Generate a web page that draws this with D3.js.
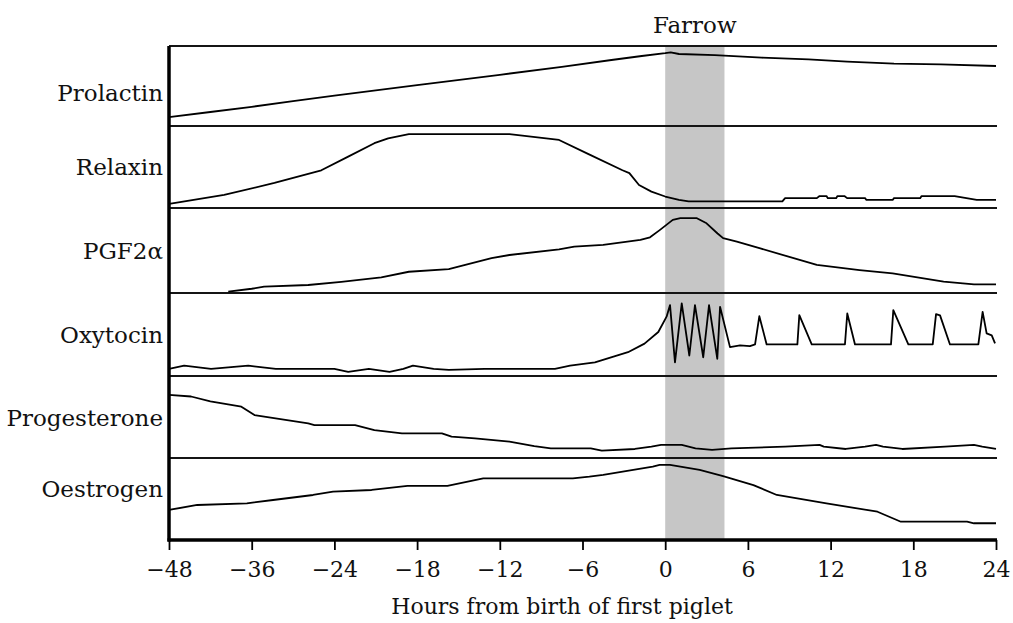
<!DOCTYPE html>
<html><head><meta charset="utf-8">
<script src="https://cdn.jsdelivr.net/npm/d3@7"></script>
<style>body{margin:0;background:#fff}svg{display:block}</style>
</head><body><svg id="c" width="1013" height="623"></svg>
<script>
// ---- data (hours from birth of first piglet, relative level 0-100 within each panel) ----
const hormones = ["Prolactin", "Relaxin", "PGF2\u03B1", "Oxytocin", "Progesterone", "Oestrogen"];
const xTicks = [-48, -36, -24, -18, -12, -6, 0, 6, 12, 18, 24];
const farrowPeriod = [0, 4.3];
const farrowLabel = "Farrow";
const xTitle = "Hours from birth of first piglet";

const prolactin = [[-48,11],[-42,17.5],[-36,24],[-30,31],[-24,38],[-18,51],[-12,64],[-7.5,74],[-3.9,82.5],[-1.7,87.5],[0,91],[0.4,92],[1,90],[3.6,88.7],[7,85.4],[10.4,83.3],[13.2,80.4],[16.6,78],[20,77],[24,75]];
const relaxin = [[-48,5],[-47.3,6],[-40,16],[-32.7,30.5],[-25.9,46],[-23,62.6],[-21.1,79],[-20.1,85],[-18.6,90],[-11.3,90],[-7.7,83],[-5.6,66],[-3.1,46],[-2.6,42.6],[-1.9,28],[-1,20],[0,14],[1,10],[1.7,8],[8.5,8],[8.7,12],[11,12],[11.2,14.6],[11.7,14.6],[11.8,12],[12.4,12],[12.5,14.6],[13,14.6],[13.2,12],[14.5,12],[14.6,9.8],[16.5,9.8],[16.6,12],[18.5,12],[18.6,14.6],[21,14.6],[22.6,9.8],[24,9.8]];
const pgf2a = [[-39.4,1.5],[-36,5],[-34.2,7.4],[-27.8,9.4],[-23.5,13],[-20.6,18.4],[-18.6,25],[-15.7,28],[-15,31],[-12.6,41],[-11.3,44.7],[-7.7,51.4],[-6.6,54.5],[-4.5,56.5],[-1.8,62.4],[-1.1,65.5],[-0.4,74],[0.55,86],[1.1,88],[2.3,88],[3,82],[3.8,70],[4.2,64.5],[5.2,60.4],[6.9,52.5],[11,33],[14.1,27],[16.5,23],[20.2,13.3],[22.4,10.2],[24,10.2]];
const oxytocin = [[-48,8.5],[-45.8,12.5],[-41.9,8.5],[-36.5,12.5],[-32.5,8.5],[-24,8.5],[-23,5],[-21.5,8.5],[-20,5],[-19,8.5],[-18.3,12.5],[-16.8,8.5],[-15.7,7.5],[-13.1,8.5],[-8,8.5],[-6.9,12.5],[-5.1,16.5],[-2.7,28.7],[-1.5,39],[-0.5,53],[0.1,71.5],[0.35,85.4],[0.71,16.5],[1.2,87.5],[1.75,24.7],[2.16,85.4],[2.76,22.6],[3.18,85.4],[3.78,20.7],[3.98,83.4],[4.7,34.8],[5.43,36.8],[6.15,36],[6.52,38],[6.83,72],[7.36,38],[9.59,38],[9.73,73.3],[10.63,38],[13.04,38],[13.21,75.3],[13.77,38],[16.38,38],[16.55,79.3],[17.64,38],[19.41,38],[19.65,74.5],[19.94,73],[20.66,38],[22.72,38],[23.03,77.3],[23.32,51.4],[23.69,49],[23.93,39.2]];
const progesterone = [[-48,77],[-44.8,75],[-42,69],[-37.5,62.6],[-35.6,52.4],[-27.8,42.3],[-26.9,40.2],[-22.5,40.2],[-21.1,34],[-19.1,30],[-16.2,30],[-15.5,26],[-13.8,24],[-11.3,20],[-9.5,14.6],[-8.3,11.8],[-5.4,11.8],[-4.6,9],[-2.2,11],[-1,13.8],[-0.3,16],[1.2,16],[2.2,11.8],[3.4,9.8],[4.8,11.8],[8.7,13.8],[11.2,16],[11.5,13.8],[13.1,11],[14.5,13.8],[15.3,16],[15.8,13.8],[17.2,11],[20.3,13.8],[22.4,16],[23,13.8],[24,11]];
const oestrogen = [[-48,36.6],[-43.9,42.7],[-36.7,44.7],[-32.9,48.8],[-27.1,54.9],[-24.2,59],[-21.3,61],[-18.7,65.9],[-15.8,65.9],[-13.2,75.2],[-6.7,75.2],[-5.5,77.2],[-4.5,79.3],[-0.9,89.4],[-0.4,91.5],[0.35,91.5],[2.5,85.4],[4.2,78],[6.4,67],[8.1,54.9],[11.7,44.7],[15.4,34.5],[17.1,22.3],[21.9,22.3],[22.4,20.4],[24,20.4]];
const series = [prolactin, relaxin, pgf2a, oxytocin, progesterone, oestrogen];

// ---- layout ----
const left = 169, right = 996, lineEnd = 997;
const panelEdges = [46, 126, 208, 293, 376, 458, 540];
const labelNudge = [6.5, 0, 0.5, 0, 1, -10];
const FONT = "'DejaVu Serif', serif";

const svg = d3.select("#c");
const step = (right - left) / (xTicks.length - 1);
const x = d3.scaleLinear().domain(xTicks).range(xTicks.map((d, i) => left + i * step));

// farrowing band
svg.append("rect")
  .attr("x", x(farrowPeriod[0])).attr("y", panelEdges[0])
  .attr("width", x(farrowPeriod[1]) - x(farrowPeriod[0]))
  .attr("height", panelEdges[6] - panelEdges[0])
  .attr("fill", "#c6c6c6");

// panel separators
svg.selectAll("line.sep").data(panelEdges.slice(0, 6)).join("line")
  .attr("class", "sep")
  .attr("x1", left).attr("x2", lineEnd)
  .attr("y1", d => d).attr("y2", d => d)
  .attr("stroke", "#151515").attr("stroke-width", 1.8);

// series lines
series.forEach((s, i) => {
  const y = d3.scaleLinear().domain([0, 100]).range([panelEdges[i + 1], panelEdges[i]]);
  const line = d3.line().x(d => x(d[0])).y(d => y(d[1]));
  svg.append("path").datum(s)
    .attr("d", line)
    .attr("fill", "none").attr("stroke", "#000").attr("stroke-width", 1.8)
    .attr("stroke-linejoin", "round");
  svg.append("text")
    .attr("x", left - 6)
    .attr("y", (panelEdges[i] + panelEdges[i + 1]) / 2 + labelNudge[i])
    .attr("dy", "0.35em")
    .attr("text-anchor", "end")
    .attr("font-family", FONT).attr("font-size", 23).attr("fill", "#111")
    .text(hormones[i]);
});

// x axis
const axis = svg.append("g")
  .attr("transform", `translate(0,${panelEdges[6]})`)
  .call(d3.axisBottom(x).tickValues(xTicks).tickSize(10).tickSizeOuter(0).tickPadding(11));
axis.select(".domain").attr("stroke", "#000").attr("stroke-width", 3.5)
  .attr("d", `M${left - 1.5},0H${lineEnd}`);
axis.selectAll(".tick line").attr("stroke", "#000").attr("stroke-width", 1.8);
axis.selectAll(".tick text").attr("font-family", FONT).attr("font-size", 22).attr("fill", "#111");

// left axis
svg.append("line")
  .attr("x1", left).attr("x2", left)
  .attr("y1", panelEdges[0]).attr("y2", panelEdges[6] + 1.5)
  .attr("stroke", "#000").attr("stroke-width", 3.5);

// labels
svg.append("text")
  .attr("x", (x(farrowPeriod[0]) + x(farrowPeriod[1])) / 2).attr("y", 33)
  .attr("text-anchor", "middle")
  .attr("font-family", FONT).attr("font-size", 23).attr("fill", "#111")
  .text(farrowLabel);
svg.append("text")
  .attr("x", 562).attr("y", 614)
  .attr("text-anchor", "middle")
  .attr("font-family", FONT).attr("font-size", 22).attr("fill", "#111")
  .text(xTitle);
</script>
</body></html>
